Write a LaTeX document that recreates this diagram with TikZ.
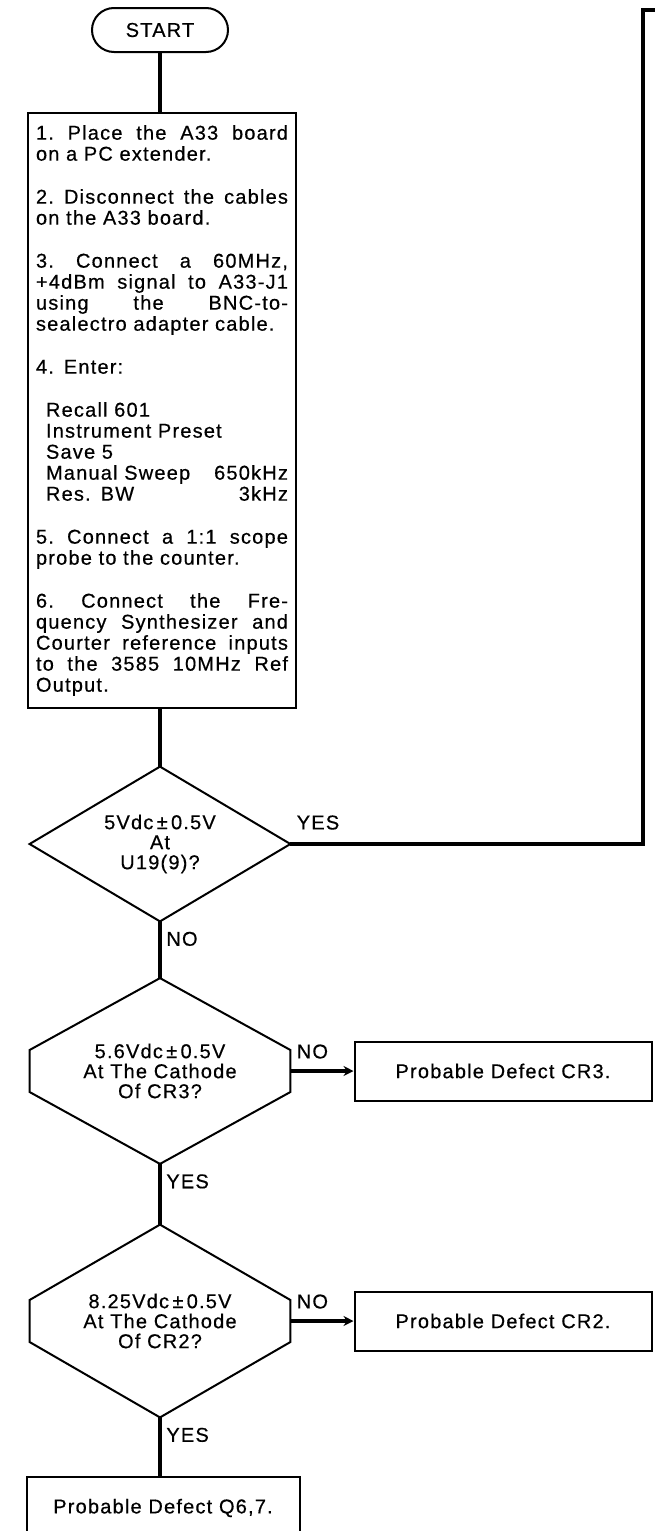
\documentclass[tikz,border=0pt]{standalone}
\usepackage{fontspec}
\setmainfont[LetterSpace=6, FakeBold=0.5]{Liberation Sans}
\usetikzlibrary{arrows.meta,positioning}

\newlength{\stepw}
\setlength{\stepw}{126pt}
\newcommand{\jl}[1]{{\spaceskip=0.3em plus 1fil\xspaceskip=0.3em plus 1fil\makebox[\stepw][s]{#1}}\\}

\begin{document}
\begin{tikzpicture}[
  x=0.5pt, y=-0.5pt,
  every node/.style={font=\fontsize{10}{10.5}\selectfont},
  outline/.style={line width=1pt, line join=miter},
  term/.style={draw, outline, rounded corners=11pt, minimum width=68pt, minimum height=22pt},
  stepbox/.style={draw, outline, text width=\stepw, inner xsep=4pt, align=left},
  decision/.style={inner sep=0pt, minimum width=130pt, align=center, font=\fontsize{10}{10}\selectfont},
  result/.style={draw, outline, minimum width=148.5pt, minimum height=29.5pt},
  lbl/.style={inner sep=0pt},
  flow/.style={line width=2.4pt, line join=miter},
  arrow/.style={flow, -{Stealth[length=5pt, width=5pt]}}
]
  \path[use as bounding box, fill=white] (0,0) rectangle (654,1531);

  \node[term] (start) at (160,30) {START};
  \node[stepbox, anchor=north west, minimum height=297.5pt] (steps) at (27,112) {%
    \jl{1. Place the A33 board}
    on a PC extender.\\[11pt]
    \jl{2. Disconnect the cables}
    on the A33 board.\\[11pt]
    \jl{3. Connect a 60MHz,}
    \jl{+4dBm signal to A33-J1}
    \jl{using the BNC-to-}
    sealectro adapter cable.\\[11pt]
    4. Enter:\\[11pt]
    \hspace*{5pt}Recall 601\\
    \hspace*{5pt}Instrument Preset\\
    \hspace*{5pt}Save 5\\
    \hspace*{5pt}Manual Sweep\hfill 650kHz\\
    \hspace*{5pt}Res. BW\hfill 3kHz\\[11pt]
    \jl{5. Connect a 1:1 scope}
    probe to the counter.\\[11pt]
    \jl{6. Connect the Fre-}
    \jl{quency Synthesizer and}
    \jl{Courter reference inputs}
    \jl{to the 3585 10MHz Ref}
    Output.};

  \node[decision, minimum height=77pt] (d1) at (160,844) {5Vdc\,±\,0.5V\\At\\U19(9)?};
  \node[decision, minimum height=92.5pt] (d2) at (160,1071) {5.6Vdc\,±\,0.5V\\At The Cathode\\Of CR3?};
  \node[decision, minimum height=96pt] (d3) at (160,1321) {8.25Vdc\,±\,0.5V\\At The Cathode\\Of CR2?};

  \node[result] (r2) at (503,1071) {Probable Defect CR3.};
  \node[result] (r3) at (503,1321) {Probable Defect CR2.};
  \node[result, anchor=north, minimum width=136.5pt, minimum height=31pt] (fin) at (163,1476) {Probable Defect Q6,7.};

  % decision outlines
  \draw[outline] (d1.north) -- (d1.east) -- (d1.south) -- (d1.west) -- cycle;
  \foreach \d in {d2,d3}
    \draw[outline] (\d.north) -- ([yshift=10.5pt]\d.east) -- ([yshift=-10.5pt]\d.east)
      -- (\d.south) -- ([yshift=-10.5pt]\d.west) -- ([yshift=10.5pt]\d.west) -- cycle;

  % connectors
  \draw[flow] (start) -- (start |- steps.north);
  \draw[flow] (steps.south -| d1.north) -- (d1.north);
  \foreach \i/\j in {d1/d2,d2/d3} \draw[flow] (\i.south) -- (\j.north);
  \draw[flow] (d3.south) -- (d3.south |- fin.north);
  \foreach \i/\j in {d2/r2,d3/r3} \draw[arrow] (\i.east) -- (\j.west);

  \coordinate (yes1) at (643,844);
  \coordinate (yes2) at (643,10);
  \coordinate (yesout) at (670,10);
  \draw[flow] (d1.east) -- (yes1) -- (yes2) -- (yesout);

  % labels
  \node[lbl, anchor=south west] (yes1lbl) at ([xshift=3pt,yshift=7pt]d1.east) {YES};
  \node[lbl, anchor=north west] (no1lbl) at ([xshift=3pt,yshift=-5pt]d1.south) {NO};
  \node[lbl, anchor=south west] (no2lbl) at ([xshift=3pt,yshift=6pt]d2.east) {NO};
  \node[lbl, anchor=north west] (yes2lbl) at ([xshift=3pt,yshift=-5pt]d2.south) {YES};
  \node[lbl, anchor=south west] (no3lbl) at ([xshift=3pt,yshift=6pt]d3.east) {NO};
  \node[lbl, anchor=north west] (yes3lbl) at ([xshift=3pt,yshift=-5pt]d3.south) {YES};
\end{tikzpicture}
\end{document}
